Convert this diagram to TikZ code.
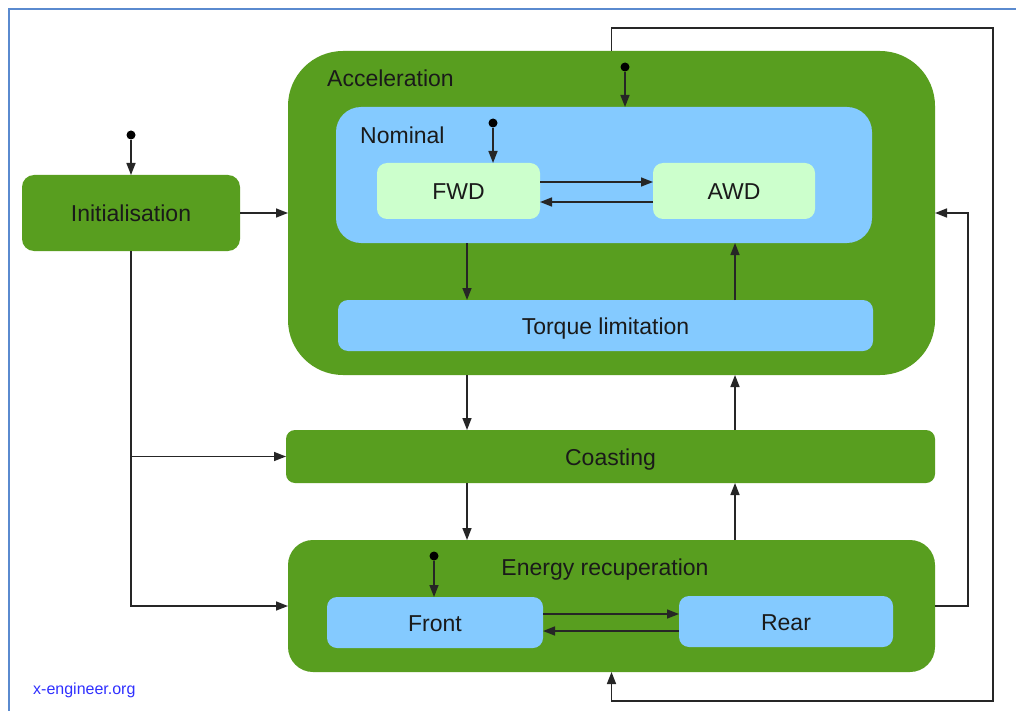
\documentclass[tikz,border=0pt]{standalone}
\usepackage{fontspec}
\setmainfont{Liberation Sans}
\usetikzlibrary{arrows.meta,calc}
\definecolor{dgreen}{HTML}{589E1F}
\definecolor{lblue}{HTML}{84CAFF}
\definecolor{pgreen}{HTML}{CCFFCC}
\definecolor{framec}{HTML}{5A8ACF}
\definecolor{linec}{HTML}{262626}
\definecolor{txtc}{HTML}{1A1A1A}
\definecolor{wmark}{HTML}{3030FF}
\begin{document}
\begin{tikzpicture}[x=1pt,y=-1pt,
  box/.style={draw=none,inner sep=0pt,outer sep=0pt,text=txtc,
    font=\fontsize{23}{27}\selectfont,text height=17pt,text depth=0pt},
  gbox/.style={box,fill=dgreen},
  bbox/.style={box,fill=lblue},
  pbox/.style={box,fill=pgreen},
  lbl/.style={inner sep=0pt,text=txtc,font=\fontsize{23}{27}\selectfont,text height=17pt,text depth=0pt},
  arr/.style={draw=linec,line width=1.5pt,-{Triangle[length=12pt,width=9pt]}},
  dot/.style={circle,fill=black,inner sep=0pt,minimum size=9pt},
]
\useasboundingbox (0,0) rectangle (1016,711);
\fill[white] (0,0) rectangle (1016,711);
\draw[framec,line width=1.6pt] (9,711) -- (9,9) -- (1016,9);

% states
\node[gbox,rounded corners=12pt,minimum width=218pt,minimum height=76pt] (init) at (131,213) {Initialisation};
\node[gbox,rounded corners=55pt,minimum width=647pt,minimum height=324pt] (acc) at (611.5,213) {};
\node[lbl,anchor=west] (acclbl) at (327,78) {Acceleration};
\node[bbox,rounded corners=25pt,minimum width=536pt,minimum height=136pt] (nom) at (604,175) {};
\node[lbl,anchor=west] (nomlbl) at (360,135) {Nominal};
\node[pbox,rounded corners=10pt,minimum width=163pt,minimum height=56pt] (fwd) at (458.5,191) {FWD};
\node[pbox,rounded corners=10pt,minimum width=162pt,minimum height=56pt] (awd) at (734,191) {AWD};
\node[bbox,rounded corners=10pt,minimum width=535pt,minimum height=51pt] (torque) at (605.5,325.5) {Torque limitation};
\node[gbox,rounded corners=9pt,minimum width=649pt,minimum height=53pt] (coast) at (610.5,456.5) {Coasting};
\node[gbox,rounded corners=25pt,minimum width=647pt,minimum height=132pt] (energy) at (611.5,606) {};
\node[lbl] (enlbl) at (605,567) {Energy recuperation};
\node[bbox,rounded corners=10pt,minimum width=216pt,minimum height=51pt] (front) at (435,622.5) {Front};
\node[bbox,rounded corners=10pt,minimum width=214pt,minimum height=51pt] (rear) at (786,621.5) {Rear};

\node[inner sep=0pt,text=wmark,font=\fontsize{16}{18}\selectfont,anchor=west] (wm) at (33,690) {x-engineer.org};

% initial dots
\node[dot] (d1) at (131,135) {};
\node[dot] (d2) at (625,67) {};
\node[dot] (d3) at (493,123) {};
\node[dot] (d4) at (434,556) {};

\coordinate (xa) at (467,0);
\coordinate (xb) at (735,0);
\coordinate (lt) at (993,28);
\coordinate (lb) at (993,701);
\coordinate (rx) at (968,0);
\coordinate (y1) at (0,182);
\coordinate (y2) at (0,202);
\coordinate (y3) at (0,614);
\coordinate (y4) at (0,631);

% connectors
\draw[arr] (d1) -- (init.north);
\draw[arr] (d2) -- (d2 |- nom.north);
\draw[arr] (d3) -- (d3 |- fwd.north);
\draw[arr] (d4) -- (d4 |- front.north);

\draw[arr] (init.east) -- (acc.west);
\draw[arr] (fwd.east |- y1) -- (awd.west |- y1);
\draw[arr] (awd.west |- y2) -- (fwd.east |- y2);
\draw[arr] (nom.south -| xa) -- (torque.north -| xa);
\draw[arr] (torque.north -| xb) -- (nom.south -| xb);
\draw[arr] (acc.south -| xa) -- (coast.north -| xa);
\draw[arr] (coast.north -| xb) -- (acc.south -| xb);
\draw[arr] (coast.south -| xa) -- (energy.north -| xa);
\draw[arr] (energy.north -| xb) -- (coast.south -| xb);
\draw[arr] (front.east |- y3) -- (rear.west |- y3);
\draw[arr] (rear.west |- y4) -- (front.east |- y4);

\draw[arr] (init.south) |- (energy.west);
\draw[arr] (init.south |- coast.west) -- (coast.west);
\draw[arr] (energy.east) -| (rx |- acc.east) -- (acc.east);
\draw[arr] (acc.north) |- (lt) -- (lb) -| (energy.south);
\end{tikzpicture}
\end{document}
